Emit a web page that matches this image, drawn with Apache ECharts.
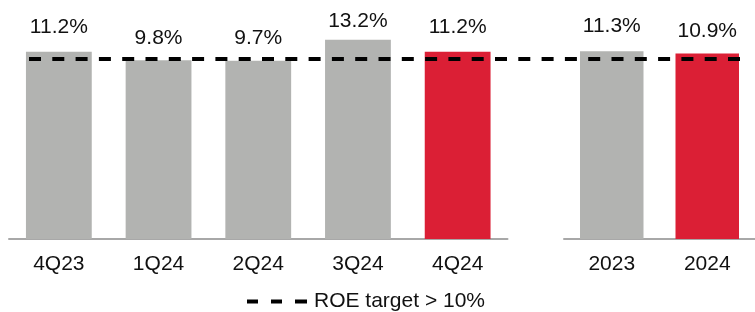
<!DOCTYPE html>
<html>
<head>
<meta charset="utf-8">
<script src="https://cdn.jsdelivr.net/npm/echarts@6/dist/echarts.min.js"></script>
<style>
html,body{margin:0;padding:0;background:#fff;}
#c{width:755px;height:312px;}
</style>
</head>
<body>
<div id="c"></div>
<script>
// Data
var quarterCategories = ['4Q23', '1Q24', '2Q24', '3Q24', '4Q24'];
var quarterROE = [11.2, 9.8, 9.7, 13.2, 11.2];
var yearCategories = ['2023', '2024'];
var yearROE = [11.3, 10.9];
var targetROE = 10;
var targetLabel = 'ROE target > 10%';

// Styles
var GRAY = '#b2b3b1';
var RED = '#db1f35';
var FONT = "'Liberation Sans', Arial, sans-serif";
var quarterLabelGap = [14, 11, 12, 8, 14];
var yearLabelGap = [14, 12];

function styled(values, gaps) {
  return values.map(function (v, i) {
    return {
      value: v,
      itemStyle: { color: i === values.length - 1 ? RED : GRAY },
      label: { distance: gaps[i] }
    };
  });
}

var yMin = -20, yMax = 15;
var gridTop = 29, gridBottom = 73;

var chart = echarts.init(document.getElementById('c'), null, { renderer: 'canvas' });

var labelCfg = {
  show: true,
  position: 'top',
  distance: 12,
  color: '#111',
  fontSize: 21,
  fontFamily: FONT,
  formatter: function (p) { return p.value.toFixed(1) + '%'; }
};

var axisLabelCfg = { color: '#111', fontSize: 21, fontFamily: FONT, margin: 15 };
var axisLineCfg = { show: true, onZero: false, lineStyle: { color: '#a8a8a8', width: 2 } };

function valueAxis(idx) {
  return { type: 'value', gridIndex: idx, min: yMin, max: yMax, startValue: yMin, show: false };
}

chart.setOption({
  animation: false,
  backgroundColor: '#fff',
  textStyle: { fontFamily: FONT },
  grid: [
    { left: 9, width: 498.5, top: gridTop, bottom: gridBottom },
    { left: 564, width: 199, top: gridTop, bottom: gridBottom },
    { left: 29, right: 10, top: gridTop, bottom: gridBottom }
  ],
  legend: {
    left: 242,
    top: 286,
    itemWidth: 60,
    itemHeight: 4,
    itemGap: 10,
    textStyle: { color: '#111', fontSize: 21, fontFamily: FONT, padding: [0, 0, 0, 2] },
    data: [{
      name: targetLabel,
      icon: 'path://M0,0h11v4h-11z M24,0h11v4h-11z M48,0h12v4h-12z'
    }]
  },
  xAxis: [
    { type: 'category', gridIndex: 0, data: quarterCategories,
      axisLine: axisLineCfg, axisTick: { show: false }, axisLabel: axisLabelCfg },
    { type: 'category', gridIndex: 1, data: yearCategories,
      axisLine: axisLineCfg, axisTick: { show: false }, axisLabel: axisLabelCfg },
    { type: 'category', gridIndex: 2, data: ['start', 'end'], boundaryGap: false, show: false }
  ],
  yAxis: [valueAxis(0), valueAxis(1), valueAxis(2)],
  series: [
    { type: 'bar', xAxisIndex: 0, yAxisIndex: 0, barWidth: '66%',
      data: styled(quarterROE, quarterLabelGap), label: labelCfg },
    { type: 'bar', xAxisIndex: 1, yAxisIndex: 1, barWidth: '66.5%',
      data: styled(yearROE, yearLabelGap), label: labelCfg },
    { type: 'line', name: targetLabel, xAxisIndex: 2, yAxisIndex: 2,
      data: [targetROE, targetROE], symbol: 'none', z: 5,
      itemStyle: { color: '#000' },
      lineStyle: { color: '#000', width: 4, type: [12, 11.3], cap: 'butt' } }
  ]
});
</script>
</body>
</html>
